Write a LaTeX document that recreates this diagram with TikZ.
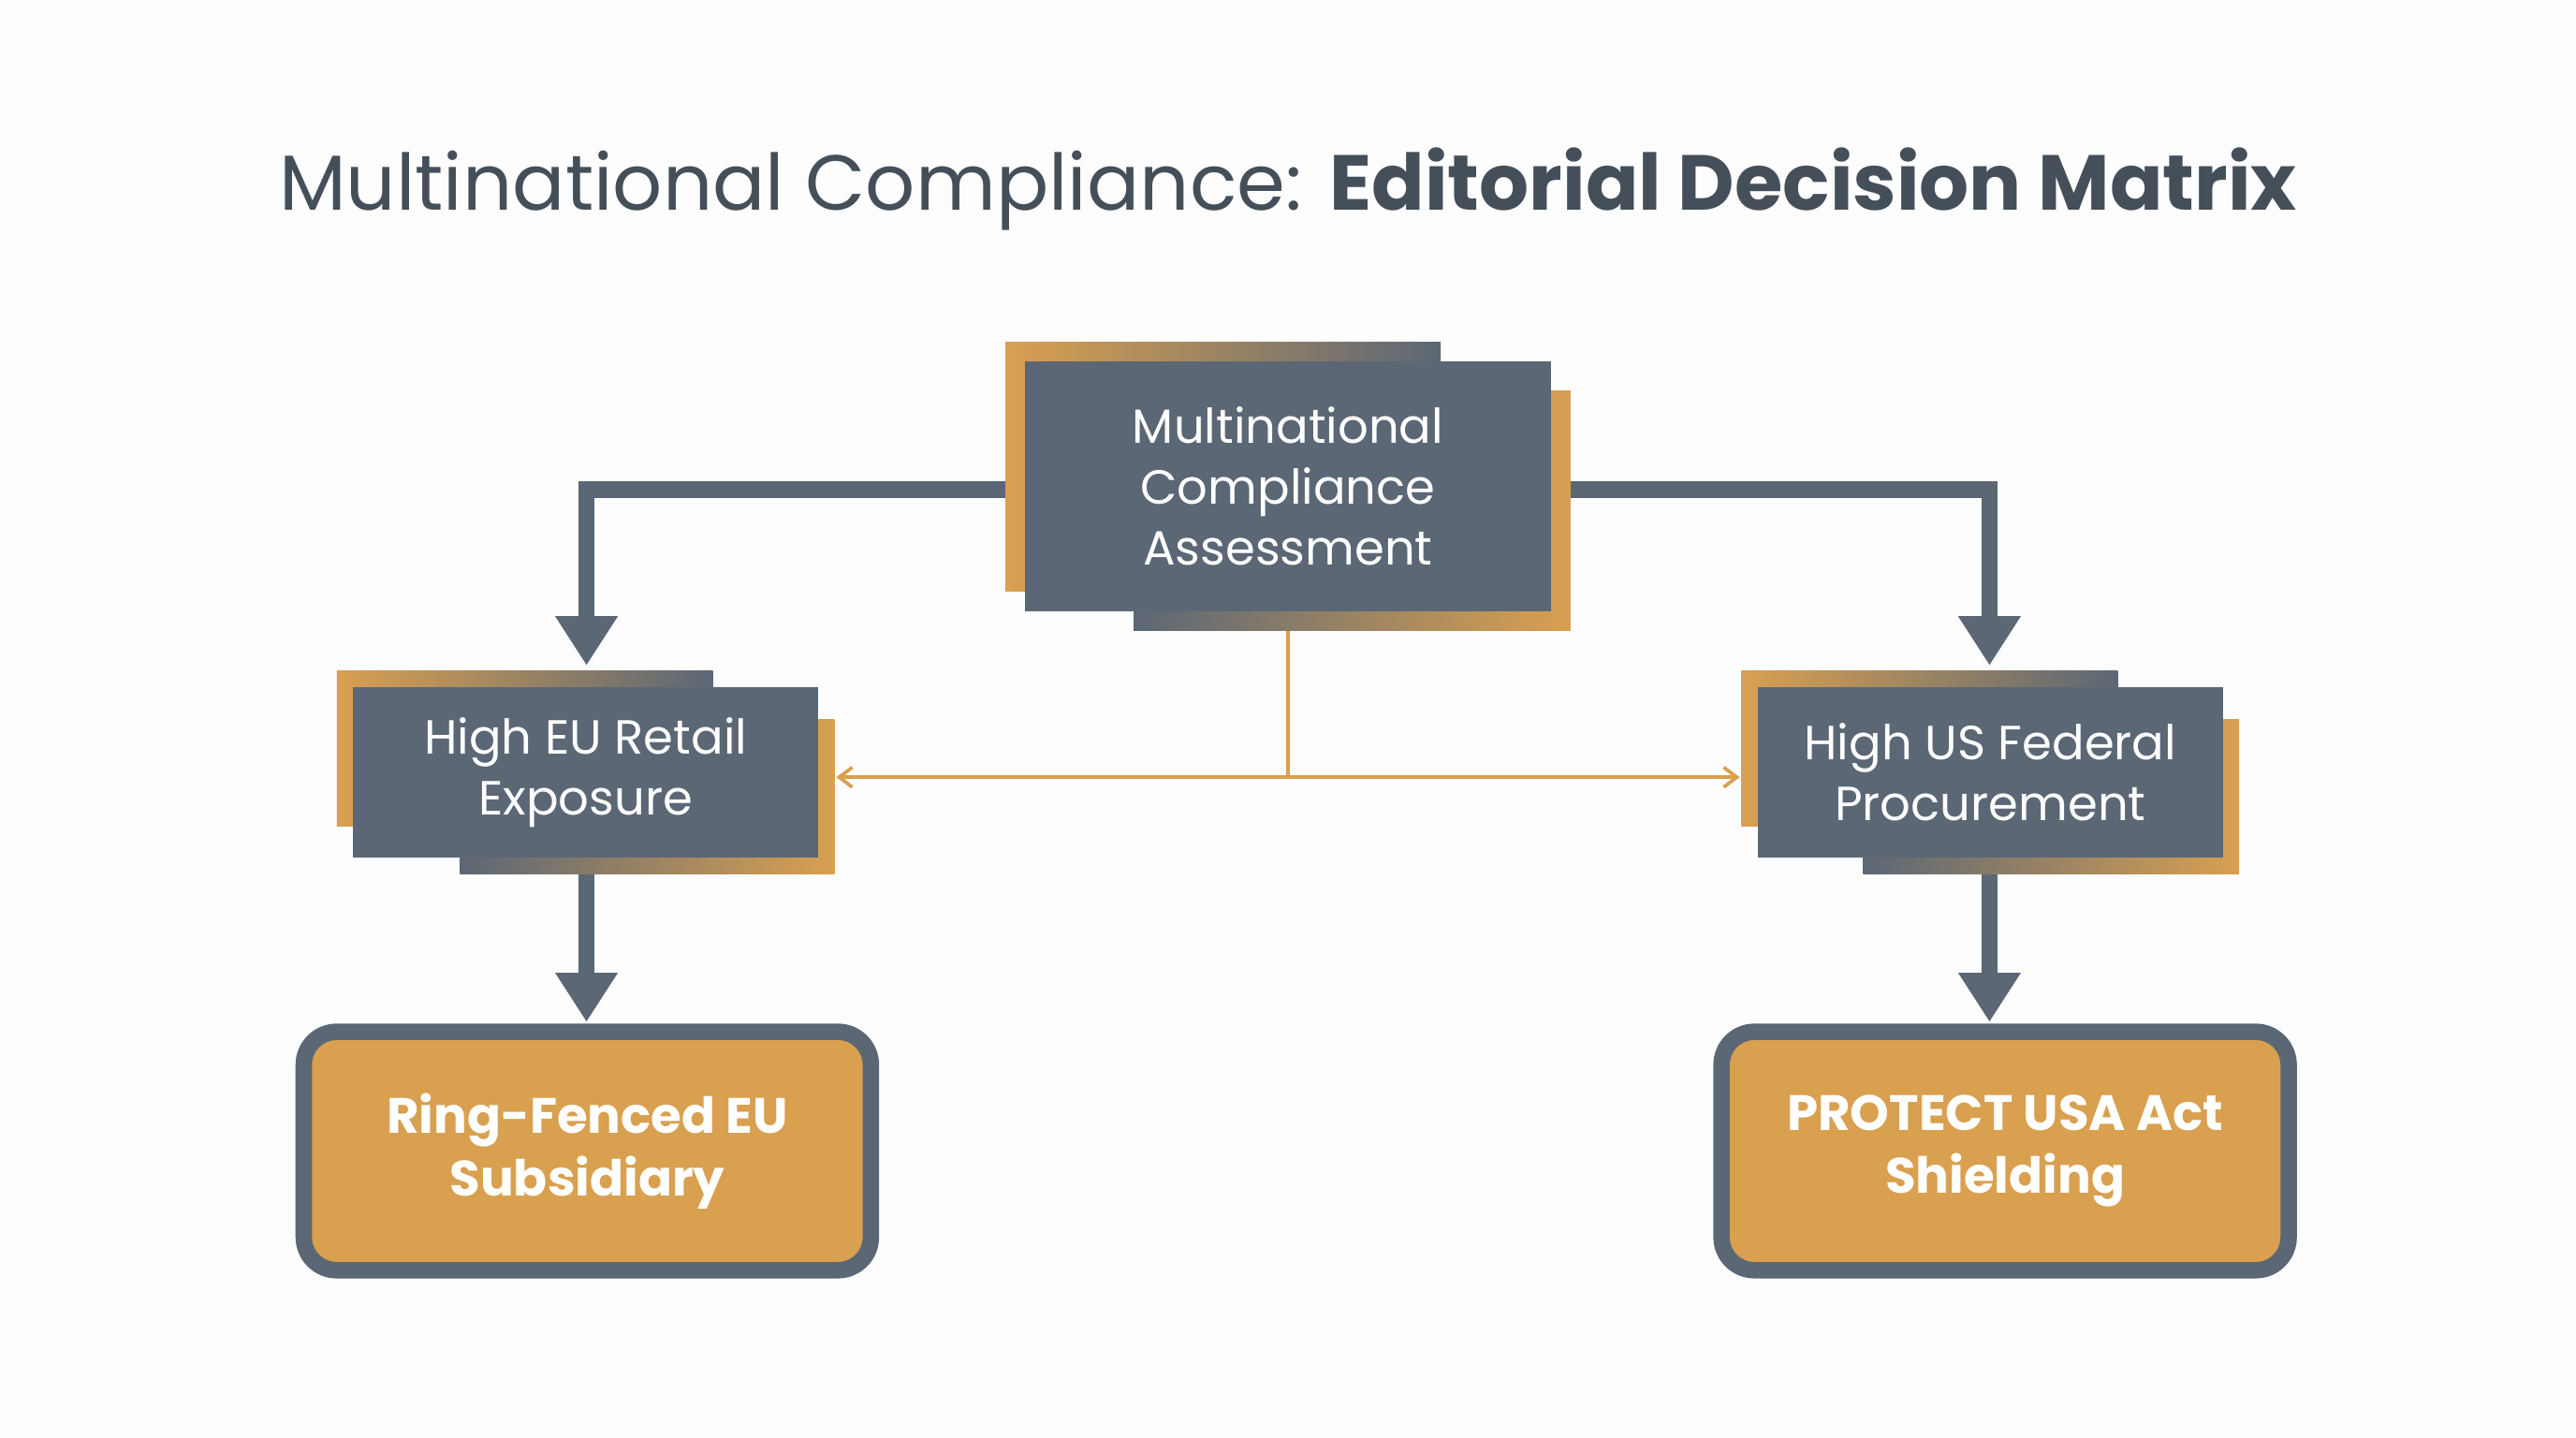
\documentclass[tikz,border=0pt]{standalone}
\usepackage{fontspec}
\setmainfont{Poppins}
\usetikzlibrary{arrows.meta}
\definecolor{slate}{HTML}{5B6775}
\definecolor{ttl}{HTML}{454F5A}
\definecolor{gold}{HTML}{D9A050}
\definecolor{bg}{HTML}{FDFDFD}
\begin{document}
\begin{tikzpicture}[x=0.01cm,y=-0.01cm,
  main/.style={fill=slate,draw=none,text=white,align=center,font=\fontsize{8.3}{10.5}\selectfont},
  thick arrow/.style={draw=slate,line width=0.1cm,-{Triangle[width=0.36cm,length=0.3cm]}},
  thin arrow/.style={draw=gold,line width=0.6pt,-{Straight Barb[width=0.12cm,length=0.08cm]}},
  outcome/.style={fill=gold,draw=slate,line width=0.1cm,rounded corners=0.2cm,text=white,align=center,font=\fontsize{8.6}{10.8}\selectfont\bfseries}]
\fill[bg] (0,0) rectangle (1568,875);
\useasboundingbox (0,0) rectangle (1568,875);
\node[text=ttl,font=\fontsize{13.5}{16}\selectfont] (title) at (784,115) {Multinational Compliance: \textbf{Editorial Decision Matrix}};
% top box
\shade[left color=gold,right color=slate] (612,208) rectangle (877,360);
\shade[left color=slate,right color=gold] (690,238) rectangle (956,384);
\node[main,minimum width=3.2cm,minimum height=1.52cm] (top) at (784,296) {Multinational\\Compliance\\Assessment};
% left box
\shade[left color=gold,right color=slate] (205,408) rectangle (434,503);
\shade[left color=slate,right color=gold] (280,438) rectangle (508,532);
\node[main,minimum width=2.83cm,minimum height=1.04cm] (eu) at (356.5,470) {High EU Retail\\Exposure};
% right box
\shade[left color=gold,right color=slate] (1060,408) rectangle (1289,503);
\shade[left color=slate,right color=gold] (1134,438) rectangle (1363,532);
\node[main,minimum width=2.83cm,minimum height=1.04cm] (us) at (1211.5,470) {High US Federal\\Procurement};
% outcomes
\node[outcome,minimum width=3.45cm,minimum height=1.45cm] (ring) at (357.5,700.5) {Ring-Fenced EU\\Subsidiary};
\node[outcome,minimum width=3.45cm,minimum height=1.45cm] (prot) at (1220.5,700.5) {PROTECT USA Act\\Shielding};
% coordinates
\coordinate (tl) at (612,298);
\coordinate (tr) at (956,298);
\coordinate (tb) at (784,384);
\coordinate (mid) at (784,473);
\coordinate (euT) at (357,405);
\coordinate (usT) at (1211,405);
\coordinate (euB) at (357,532);
\coordinate (usB) at (1211,532);
\coordinate (euR) at (509,473);
\coordinate (usL) at (1059,473);
\draw[thick arrow] (tl) -| (euT);
\draw[thick arrow] (tr) -| (usT);
\draw[thick arrow] (euB) -- (357,622);
\draw[thick arrow] (usB) -- (1211,622);
\draw[draw=gold,line width=0.6pt] (tb) -- (mid);
\draw[thin arrow] (mid) -- (euR);
\draw[thin arrow] (mid) -- (usL);
\end{tikzpicture}
\end{document}
